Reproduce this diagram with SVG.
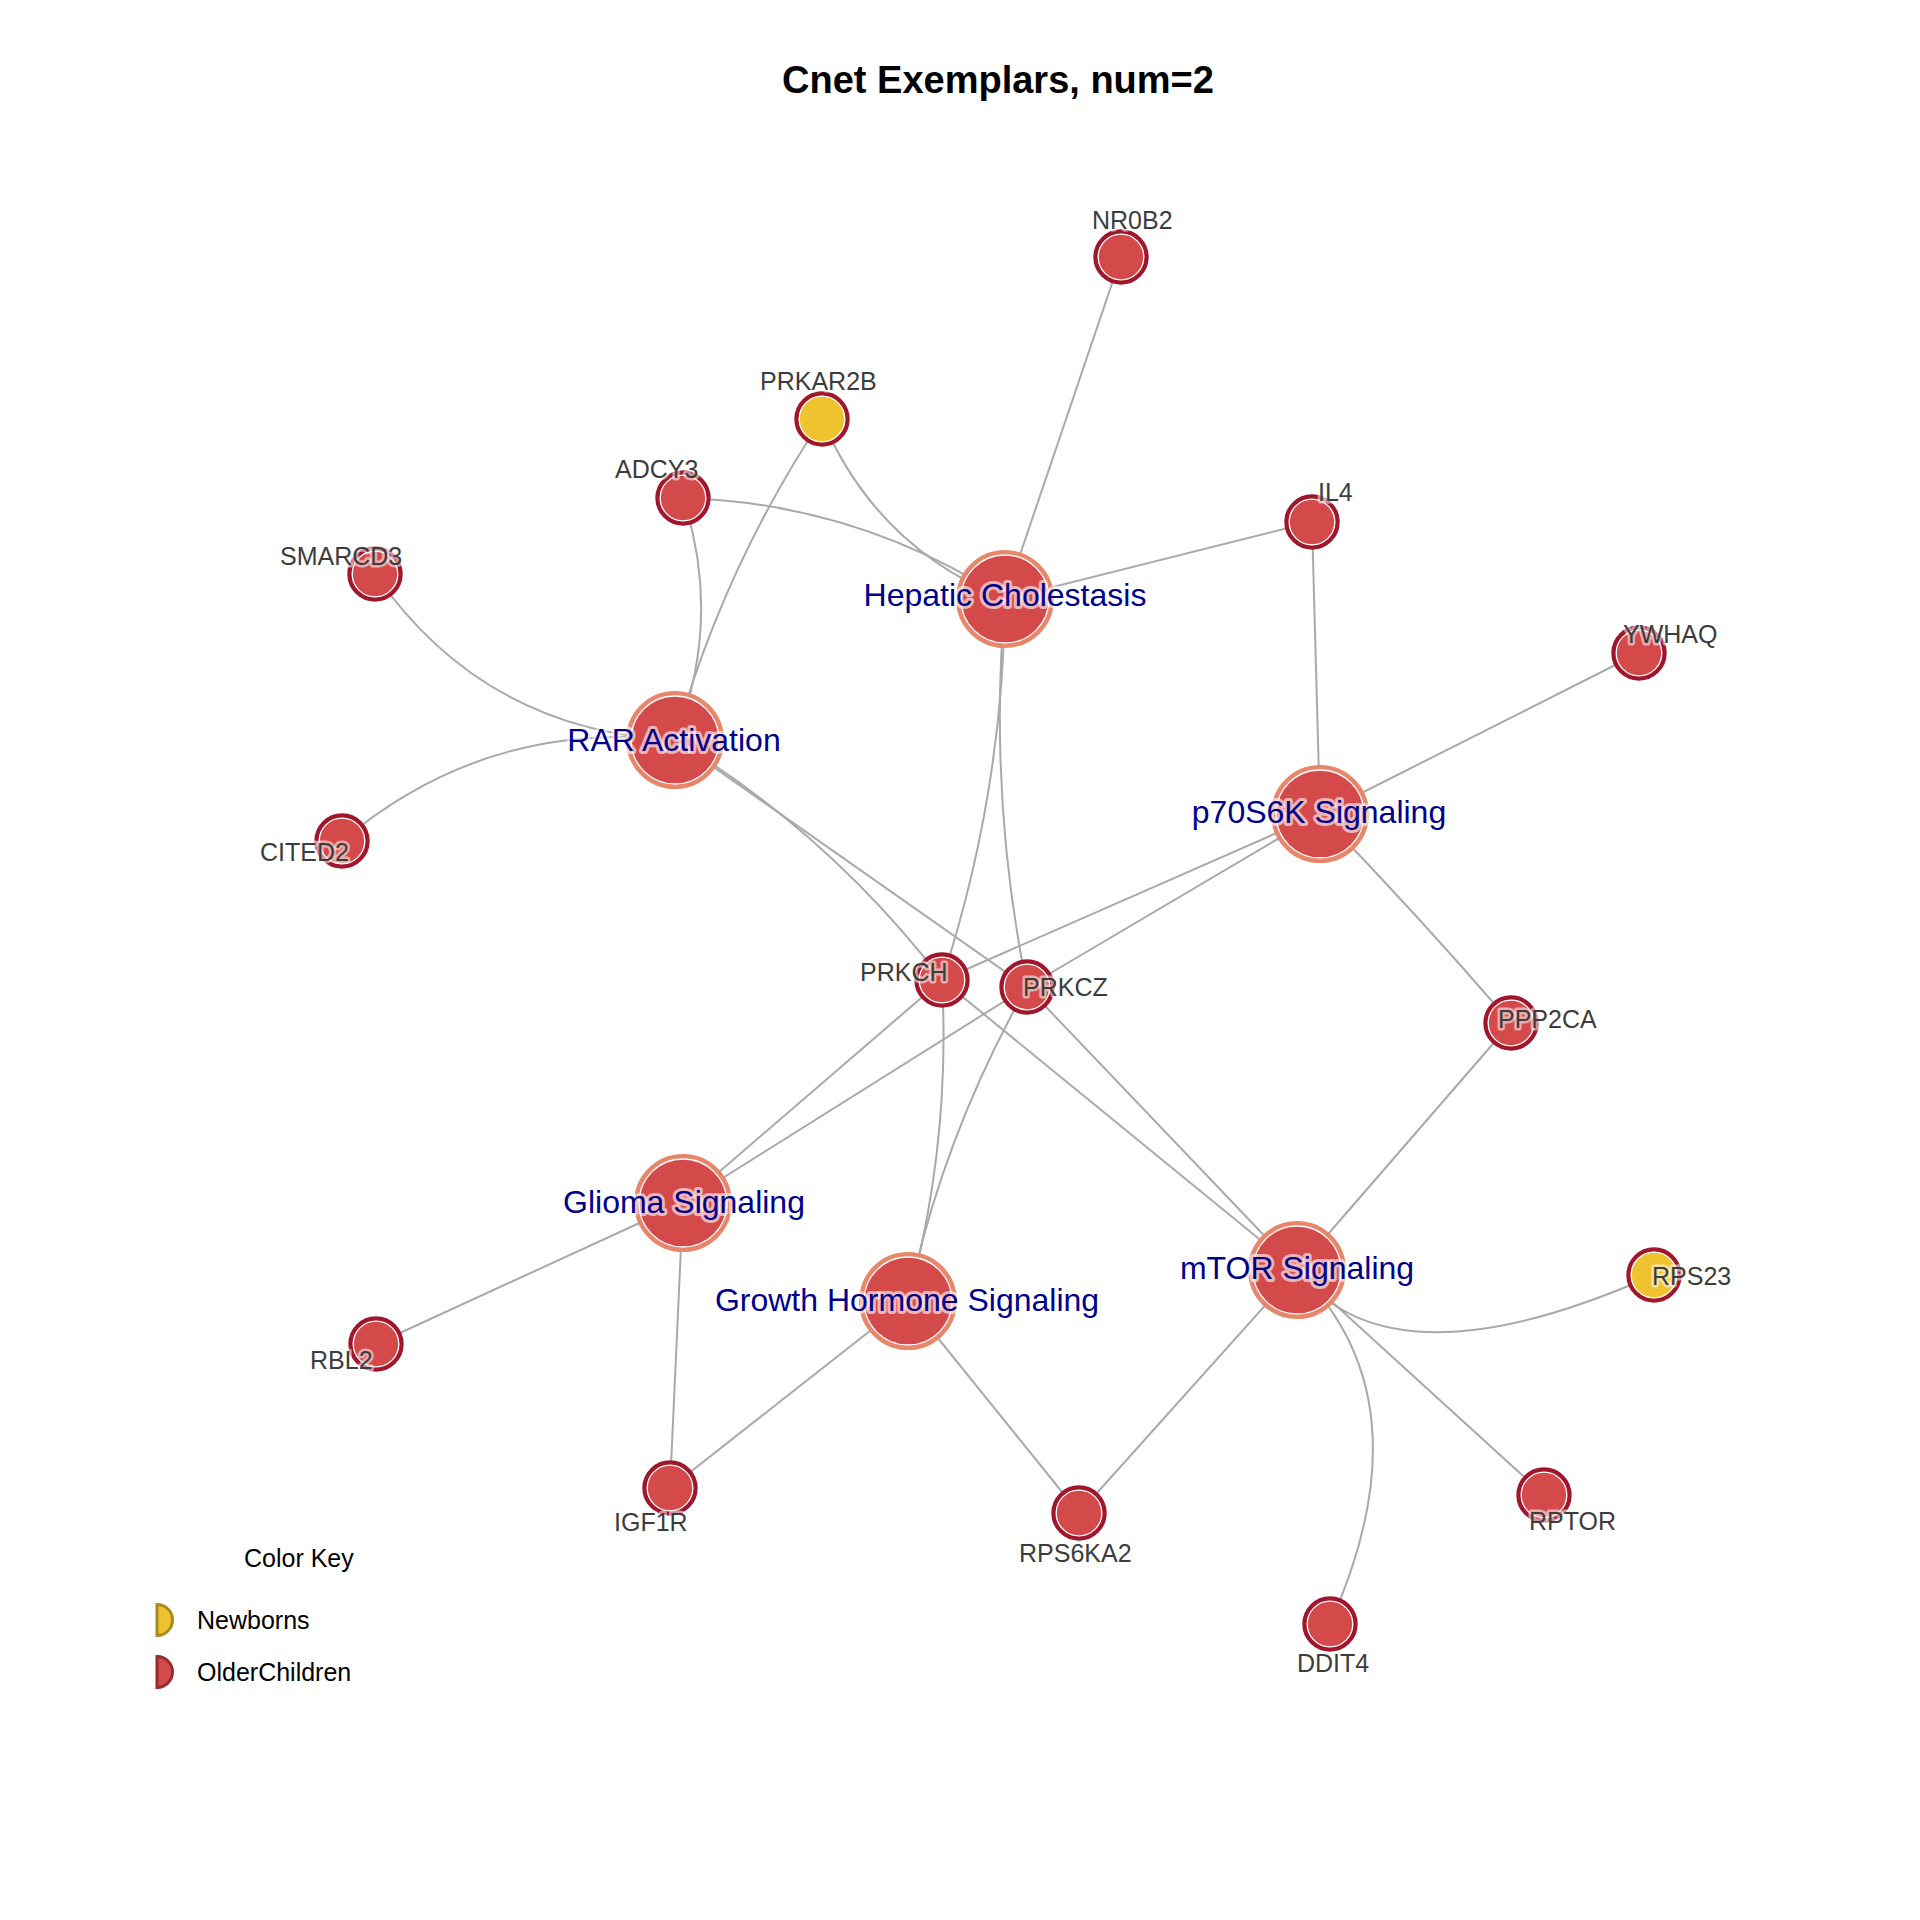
<svg xmlns="http://www.w3.org/2000/svg" width="1920" height="1920" viewBox="0 0 1920 1920">
<style>
.edge{fill:none;stroke:#A9A9A9;stroke-width:2}
.gb{fill:#D44A4A;stroke:#A0172D;stroke-width:4.4}
.gy{fill:#EFC32F;stroke:#A0172D;stroke-width:4.4}
.pb{fill:#D44A4A;stroke:#E8866A;stroke-width:4.4}
.ring{fill:none;stroke:#FFFFFF;stroke-width:1.3}
.gl{font-family:"Liberation Sans",Arial,sans-serif;font-size:25px;fill:#3C3C3C;paint-order:stroke;stroke:#FFFFFF;stroke-opacity:0.55;stroke-width:5;stroke-linejoin:round}
.pl{font-family:"Liberation Sans",Arial,sans-serif;font-size:32px;fill:#00008B;text-anchor:middle;paint-order:stroke;stroke:#FFFFFF;stroke-opacity:0.6;stroke-width:6;stroke-linejoin:round}
.title{font-family:"Liberation Sans",Arial,sans-serif;font-size:38px;font-weight:bold;fill:#000;text-anchor:middle}
.lg{font-family:"Liberation Sans",Arial,sans-serif;font-size:25px;fill:#000}
</style>
<rect x="0" y="0" width="1920" height="1920" fill="#FFFFFF"/>
<text class="title" x="998" y="93">Cnet Exemplars, num=2</text>

<g id="connectors">
<path class="edge" d="M1005,599 L1121,257"/>
<path class="edge" d="M822,419 Q876,547 1005,599"/>
<path class="edge" d="M683,498 Q858,503 1005,599"/>
<path class="edge" d="M1005,599 L1312,522"/>
<path class="edge" d="M1005,599 Q1003,794 942,980"/>
<path class="edge" d="M1005,599 Q988,795 1027,987"/>
<path class="edge" d="M375,574 Q484,731 675,740"/>
<path class="edge" d="M342,841 Q487,719 675,740"/>
<path class="edge" d="M683,498 Q723,619 675,740"/>
<path class="edge" d="M822,419 Q723,568 675,740"/>
<path class="edge" d="M675,740 Q831,835 942,980"/>
<path class="edge" d="M675,740 L1027,987"/>
<path class="edge" d="M1320,814 L1312,522"/>
<path class="edge" d="M1320,814 L1639,653"/>
<path class="edge" d="M1320,814 Q1418,915 1511,1023"/>
<path class="edge" d="M1320,814 L942,980"/>
<path class="edge" d="M1320,814 L1027,987"/>
<path class="edge" d="M683,1203 L942,980"/>
<path class="edge" d="M683,1203 L1027,987"/>
<path class="edge" d="M683,1203 L376,1344"/>
<path class="edge" d="M683,1203 L670,1488"/>
<path class="edge" d="M942,980 Q951,1143 908,1301"/>
<path class="edge" d="M1027,987 Q943,1135 908,1301"/>
<path class="edge" d="M908,1301 L670,1488"/>
<path class="edge" d="M908,1301 L1079,1513"/>
<path class="edge" d="M942,980 L1297,1270"/>
<path class="edge" d="M1027,987 L1297,1270"/>
<path class="edge" d="M1297,1270 L1511,1023"/>
<path class="edge" d="M1297,1270 Q1390,1392 1654,1275"/>
<path class="edge" d="M1297,1270 L1079,1513"/>
<path class="edge" d="M1297,1270 L1544,1495"/>
<path class="edge" d="M1297,1270 Q1430,1400 1330,1624"/>
</g>

<g id="node-hepatic-cholestasis"><circle class="pb" cx="1005" cy="599" r="46.8"/><circle class="ring" cx="1005" cy="599" r="44"/></g>
<g id="node-rar-activation"><circle class="pb" cx="675" cy="740" r="46.8"/><circle class="ring" cx="675" cy="740" r="44"/></g>
<g id="node-p70s6k-signaling"><circle class="pb" cx="1320" cy="814" r="46.8"/><circle class="ring" cx="1320" cy="814" r="44"/></g>
<g id="node-glioma-signaling"><circle class="pb" cx="683" cy="1203" r="46.8"/><circle class="ring" cx="683" cy="1203" r="44"/></g>
<g id="node-growth-hormone-signaling"><circle class="pb" cx="908" cy="1301" r="46.8"/><circle class="ring" cx="908" cy="1301" r="44"/></g>
<g id="node-mtor-signaling"><circle class="pb" cx="1297" cy="1270" r="46.8"/><circle class="ring" cx="1297" cy="1270" r="44"/></g>

<g id="node-NR0B2"><circle class="gb" cx="1121" cy="257" r="25.5"/><circle class="ring" cx="1121" cy="257" r="22.8"/></g>
<g id="node-PRKAR2B"><circle class="gy" cx="822" cy="419" r="25.5"/><circle class="ring" cx="822" cy="419" r="22.8"/></g>
<g id="node-ADCY3"><circle class="gb" cx="683" cy="498" r="25.5"/><circle class="ring" cx="683" cy="498" r="22.8"/></g>
<g id="node-IL4"><circle class="gb" cx="1312" cy="522" r="25.5"/><circle class="ring" cx="1312" cy="522" r="22.8"/></g>
<g id="node-SMARCD3"><circle class="gb" cx="375" cy="574" r="25.5"/><circle class="ring" cx="375" cy="574" r="22.8"/></g>
<g id="node-YWHAQ"><circle class="gb" cx="1639" cy="653" r="25.5"/><circle class="ring" cx="1639" cy="653" r="22.8"/></g>
<g id="node-CITED2"><circle class="gb" cx="342" cy="841" r="25.5"/><circle class="ring" cx="342" cy="841" r="22.8"/></g>
<g id="node-PRKCH"><circle class="gb" cx="942" cy="980" r="25.5"/><circle class="ring" cx="942" cy="980" r="22.8"/></g>
<g id="node-PRKCZ"><circle class="gb" cx="1027" cy="987" r="25.5"/><circle class="ring" cx="1027" cy="987" r="22.8"/></g>
<g id="node-PPP2CA"><circle class="gb" cx="1511" cy="1023" r="25.5"/><circle class="ring" cx="1511" cy="1023" r="22.8"/></g>
<g id="node-RPS23"><circle class="gy" cx="1654" cy="1275" r="25.5"/><circle class="ring" cx="1654" cy="1275" r="22.8"/></g>
<g id="node-RBL2"><circle class="gb" cx="376" cy="1344" r="25.5"/><circle class="ring" cx="376" cy="1344" r="22.8"/></g>
<g id="node-IGF1R"><circle class="gb" cx="670" cy="1488" r="25.5"/><circle class="ring" cx="670" cy="1488" r="22.8"/></g>
<g id="node-RPS6KA2"><circle class="gb" cx="1079" cy="1513" r="25.5"/><circle class="ring" cx="1079" cy="1513" r="22.8"/></g>
<g id="node-RPTOR"><circle class="gb" cx="1544" cy="1495" r="25.5"/><circle class="ring" cx="1544" cy="1495" r="22.8"/></g>
<g id="node-DDIT4"><circle class="gb" cx="1330" cy="1624" r="25.5"/><circle class="ring" cx="1330" cy="1624" r="22.8"/></g>

<g id="labels">
<text class="gl" x="1092" y="229">NR0B2</text>
<text class="gl" x="760" y="390">PRKAR2B</text>
<text class="gl" x="615" y="478">ADCY3</text>
<text class="gl" x="1318" y="501">IL4</text>
<text class="gl" x="280" y="565">SMARCD3</text>
<text class="gl" x="1623" y="643">YWHAQ</text>
<text class="gl" x="260" y="861">CITED2</text>
<text class="gl" x="860" y="981">PRKCH</text>
<text class="gl" x="1023" y="996">PRKCZ</text>
<text class="gl" x="1498" y="1028">PPP2CA</text>
<text class="gl" x="1652" y="1285">RPS23</text>
<text class="gl" x="310" y="1369">RBL2</text>
<text class="gl" x="614" y="1531">IGF1R</text>
<text class="gl" x="1019" y="1562">RPS6KA2</text>
<text class="gl" x="1529" y="1530">RPTOR</text>
<text class="gl" x="1297" y="1672">DDIT4</text>
<text class="pl" x="1005" y="606">Hepatic Cholestasis</text>
<text class="pl" x="674" y="751">RAR Activation</text>
<text class="pl" x="1319" y="823">p70S6K Signaling</text>
<text class="pl" x="684" y="1213">Glioma Signaling</text>
<text class="pl" x="907" y="1311">Growth Hormone Signaling</text>
<text class="pl" x="1297" y="1279">mTOR Signaling</text>
</g>

<g id="legend">
<text class="lg" x="244" y="1567">Color Key</text>
<path d="M157,1604.5 A15.5,15.5 0 0 1 157,1635.5 Z" fill="#EFC32F" stroke="#A88A1F" stroke-width="3"/>
<text class="lg" x="197" y="1629">Newborns</text>
<path d="M157,1656.5 A15.5,15.5 0 0 1 157,1687.5 Z" fill="#D44A4A" stroke="#982C2E" stroke-width="3"/>
<text class="lg" x="197" y="1681">OlderChildren</text>
</g>
</svg>
